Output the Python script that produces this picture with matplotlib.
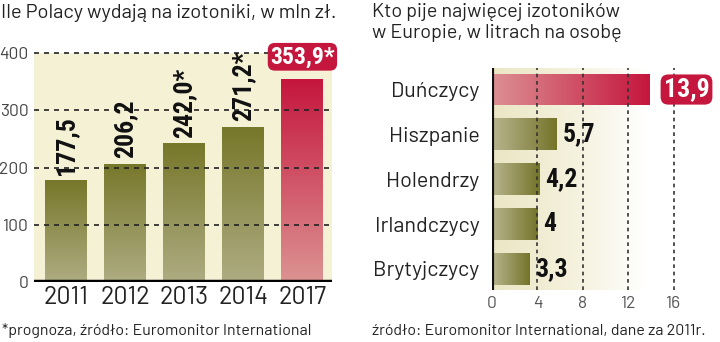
import matplotlib
matplotlib.use('Agg')
import matplotlib.pyplot as plt
import numpy as np
from matplotlib.colors import LinearSegmentedColormap

# dane
years = ['2011', '2012', '2013', '2014', '2017']
spend = [177.5, 206.2, 242.0, 271.2, 353.9]
spend_labels = ['177,5', '206,2', '242,0*', '271,2*', '353,9*']

countries = ['Duńczycy', 'Hiszpanie', 'Holendrzy', 'Irlandczycy', 'Brytyjczycy']
litres = [13.9, 5.7, 4.2, 4.0, 3.3]
litres_labels = ['13,9', '5,7', '4,2', '4', '3,3']

FONT = 'Barlow'
BOLD = 'Roboto Condensed'
RED = '#c5163d'


def grad_fill(ax, patch, c0, c1, vertical=True):
    bb = patch.get_bbox()
    cmap = LinearSegmentedColormap.from_list('g', [c0, c1])
    if vertical:
        arr = np.linspace(0, 1, 256).reshape(-1, 1)
    else:
        arr = np.linspace(0, 1, 256).reshape(1, -1)
    im = ax.imshow(arr, cmap=cmap, extent=[bb.x0, bb.x1, bb.y0, bb.y1],
                   origin='lower', aspect='auto', zorder=2, interpolation='bilinear')
    im.set_clip_path(patch)


fig = plt.figure(figsize=(7.2, 3.42), dpi=100)

########################## lewy wykres ##########################
ax = fig.add_axes([34 / 720, 1 - 282 / 342, 298 / 720, 229 / 342])
ax.set_facecolor('#f4f1d5')
idx = np.arange(len(years))
bars = ax.bar(idx, spend, width=0.71, facecolor='none', edgecolor='none', zorder=2)
for i, b in enumerate(bars):
    if i == len(bars) - 1:
        grad_fill(ax, b, '#dc9392', '#c5163d')
    else:
        grad_fill(ax, b, '#aeac82', '#77772a')

for y in [100, 200, 300, 400]:
    ax.axhline(y, color='#222222', lw=1.2, ls=(0, (3, 3)), zorder=3, clip_on=False)
ax.axhline(0, color='black', lw=3.2, zorder=4)

for i, (v, s) in enumerate(zip(spend, spend_labels)):
    if i == len(spend) - 1:
        ax.annotate(s, (i, v), xytext=(0, 8), textcoords='offset points',
                    ha='center', va='bottom', color='white', fontsize=17,
                    family=BOLD, weight='bold', zorder=6,
                    bbox=dict(boxstyle='round,pad=0.1,rounding_size=0.3', fc=RED, ec='none'))
    else:
        ax.annotate(s, (i, v), xytext=(0, 4), textcoords='offset points',
                    ha='center', va='bottom', rotation=90, color='#111111', fontsize=18.5,
                    family=BOLD, weight='bold', zorder=6)

ax.set_xlim(-0.54, 4.5)
ax.set_ylim(0, 400)
ax.set_xticks(idx, years, fontsize=18, family=FONT, color='#222222')
ax.set_yticks([0, 100, 200, 300, 400], ['0', '100', '200', '300', '400'],
              fontsize=12.5, family=FONT, color='#444444')
ax.tick_params(length=0)
ax.tick_params(axis='x', pad=3)
ax.tick_params(axis='y', pad=4)
for sp in ax.spines.values():
    sp.set_visible(False)

fig.text(0.001, 1 - 4 / 342, 'Ile Polacy wydają na izotoniki, w mln zł.', ha='left', va='top',
         fontsize=14.5, family=FONT, color='#222222')
fig.text(0.003, 1 - 331 / 342, '*prognoza, źródło: Euromonitor International', ha='left', va='center',
         fontsize=11.5, family=FONT, color='#222222')

########################## prawy wykres ##########################
ax2 = fig.add_axes([492 / 720, 1 - 290 / 342, 193 / 720, 222 / 342])
bgc = LinearSegmentedColormap.from_list('bg', [(0, '#ebe6c4'), (0.45, '#f5f2df'), (0.8, '#ffffff'), (1, '#ffffff')])
ax2.imshow(np.linspace(0, 1, 256).reshape(1, -1), cmap=bgc, extent=[0, 1, 0, 1],
           transform=ax2.transAxes, aspect='auto', zorder=0, interpolation='bilinear')
pos = np.arange(len(countries))
hb = ax2.barh(pos, litres, height=0.71, facecolor='none', edgecolor='none', zorder=2)
for i, b in enumerate(hb):
    if i == 0:
        grad_fill(ax2, b, '#dc9093', '#c5163d', vertical=False)
    else:
        grad_fill(ax2, b, '#b8b58f', '#75742a', vertical=False)

for x in [4, 8, 12, 16]:
    ax2.axvline(x, color='#333333', lw=1.2, ls=(0, (2.2, 2.2)), zorder=3)
ax2.axvline(0, color='#111111', lw=3, zorder=4)

for i, (v, s) in enumerate(zip(litres, litres_labels)):
    if i == 0:
        ax2.annotate(s, (v, i), xytext=(10, 0), textcoords='offset points',
                     ha='left', va='center', color='white', fontsize=18.5,
                     family=BOLD, weight='bold', zorder=6,
                     bbox=dict(boxstyle='round,pad=0.12,rounding_size=0.3', fc=RED, ec='none'))
    else:
        ax2.annotate(s, (v, i), xytext=(4, 0), textcoords='offset points',
                     ha='left', va='center', color='#111111', fontsize=18.5,
                     family=BOLD, weight='bold', zorder=6)

ax2.set_xlim(0, 17)
ax2.set_ylim(4.47, -0.48)
ax2.set_xticks([0, 4, 8, 12, 16], ['0', '4', '8', '12', '16'],
               fontsize=12.5, family=FONT, color='#555555')
ax2.set_yticks(pos, countries, fontsize=15.5, family=FONT, color='#222222')
ax2.tick_params(length=0)
ax2.tick_params(axis='x', pad=4)
ax2.tick_params(axis='y', pad=9)
for sp in ax2.spines.values():
    sp.set_visible(False)

fig.text(372 / 720, 1 - 3 / 342, 'Kto pije najwięcej izotoników\nw Europie, w litrach na osobę',
         ha='left', va='top', fontsize=14.3, family=FONT, color='#222222', linespacing=1.2)
fig.text(372 / 720, 1 - 331 / 342, 'źródło: Euromonitor International, dane za 2011r.', ha='left',
         va='center', fontsize=11.5, family=FONT, color='#222222')

fig.savefig('out.png', dpi=100)
